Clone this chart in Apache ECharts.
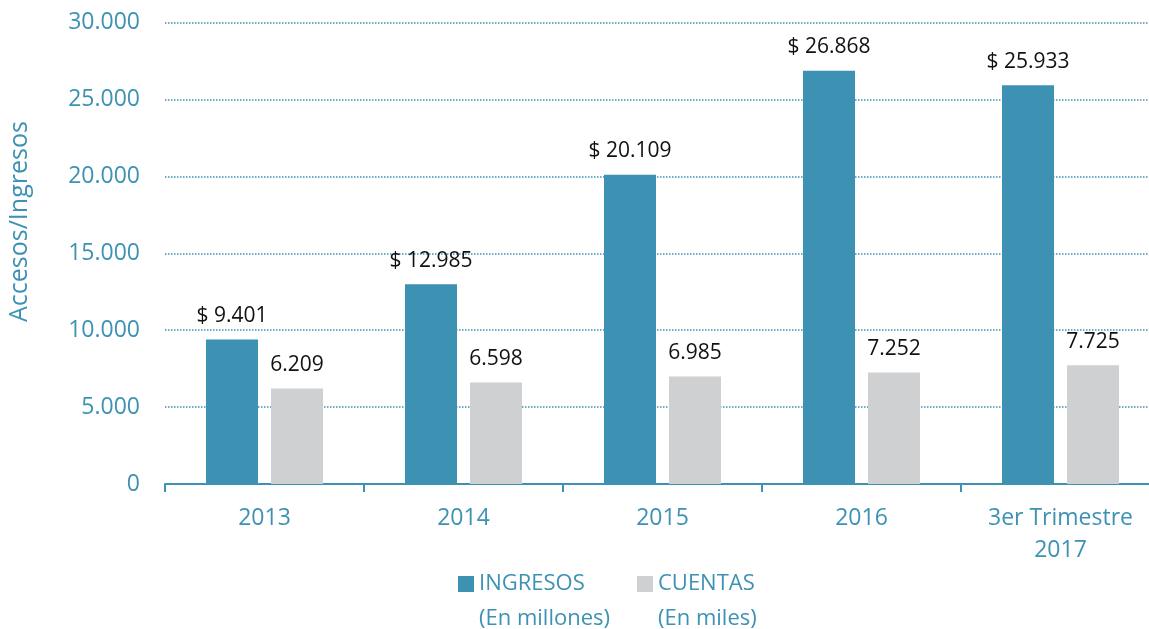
<!DOCTYPE html>
<html>
<head>
<meta charset="utf-8">
<script src="https://cdn.jsdelivr.net/npm/echarts@6/dist/echarts.min.js"></script>
<style>
  html, body { margin: 0; padding: 0; background: #fff; overflow: hidden; }
  /* un poco mas ancho que la ventana: el grafico original corta el area por la derecha */
  #chart { width: 1162px; height: 629px; }
</style>
</head>
<body>
<div id="chart"></div>
<script>
// datos
const categories = ['2013', '2014', '2015', '2016', '3er Trimestre\n2017'];
const ingresos = [9401, 12985, 20109, 26868, 25933];
const cuentas = [6209, 6598, 6985, 7252, 7725];
const yTicks = { min: 0, max: 30000, interval: 5000 };

const teal = '#3d92b4';
const gray = '#cfd0d2';
const font = 'Open Sans';

// separador de miles con punto
function fmt(v) {
  return String(v).replace(/\B(?=(\d{3})+(?!\d))/g, '.');
}

const chart = echarts.init(document.getElementById('chart'));
const option = {
  animation: false,
  textStyle: { fontFamily: font },
  grid: { left: 165, top: 22.7, width: 995, height: 461.3 },
  legend: [
    {
      left: 458, top: 573, padding: 0, selectedMode: false,
      itemWidth: 16, itemHeight: 16, icon: 'rect',
      data: ['INGRESOS'],
      textStyle: { color: teal, fontSize: 22, fontFamily: font }
    },
    {
      left: 637, top: 573, padding: 0, selectedMode: false,
      itemWidth: 16, itemHeight: 16, icon: 'rect',
      data: ['CUENTAS'],
      textStyle: { color: teal, fontSize: 22, fontFamily: font }
    }
  ],
  graphic: [
    {
      type: 'text', left: 479, top: 608,
      style: { text: '(En millones)', fill: teal, font: '22px "Open Sans"' }
    },
    {
      type: 'text', left: 658, top: 608,
      style: { text: '(En miles)', fill: teal, font: '22px "Open Sans"' }
    },
    {
      type: 'text', x: 7, y: 322, rotation: Math.PI / 2,
      style: { text: 'Accesos/Ingresos', fill: teal, font: '25px "Open Sans"' }
    }
  ],
  xAxis: {
    type: 'category',
    data: categories,
    axisLine: { lineStyle: { color: teal, width: 2 } },
    axisTick: { show: true, length: 8, lineStyle: { color: teal, width: 2 } },
    axisLabel: { color: teal, fontSize: 23, margin: 18, lineHeight: 32, interval: 0 }
  },
  yAxis: {
    type: 'value',
    min: yTicks.min, max: yTicks.max, interval: yTicks.interval,
    axisLine: { show: false },
    axisTick: { show: false },
    axisLabel: { color: teal, fontSize: 23, margin: 25, formatter: fmt },
    splitLine: { lineStyle: { color: teal, type: 'dotted', width: 1.5 } }
  },
  series: [
    {
      name: 'INGRESOS',
      type: 'bar',
      data: ingresos,
      barWidth: 52,
      barGap: '25%',
      itemStyle: { color: teal },
      label: {
        show: true, position: 'top', distance: 13,
        color: '#111', fontSize: 21,
        formatter: p => '$ ' + fmt(p.value)
      }
    },
    {
      name: 'CUENTAS',
      type: 'bar',
      data: cuentas,
      barWidth: 52,
      itemStyle: { color: gray },
      label: {
        show: true, position: 'top', distance: 13,
        color: '#111', fontSize: 21,
        formatter: p => fmt(p.value)
      }
    }
  ]
};
chart.setOption(option);
</script>
</body>
</html>
